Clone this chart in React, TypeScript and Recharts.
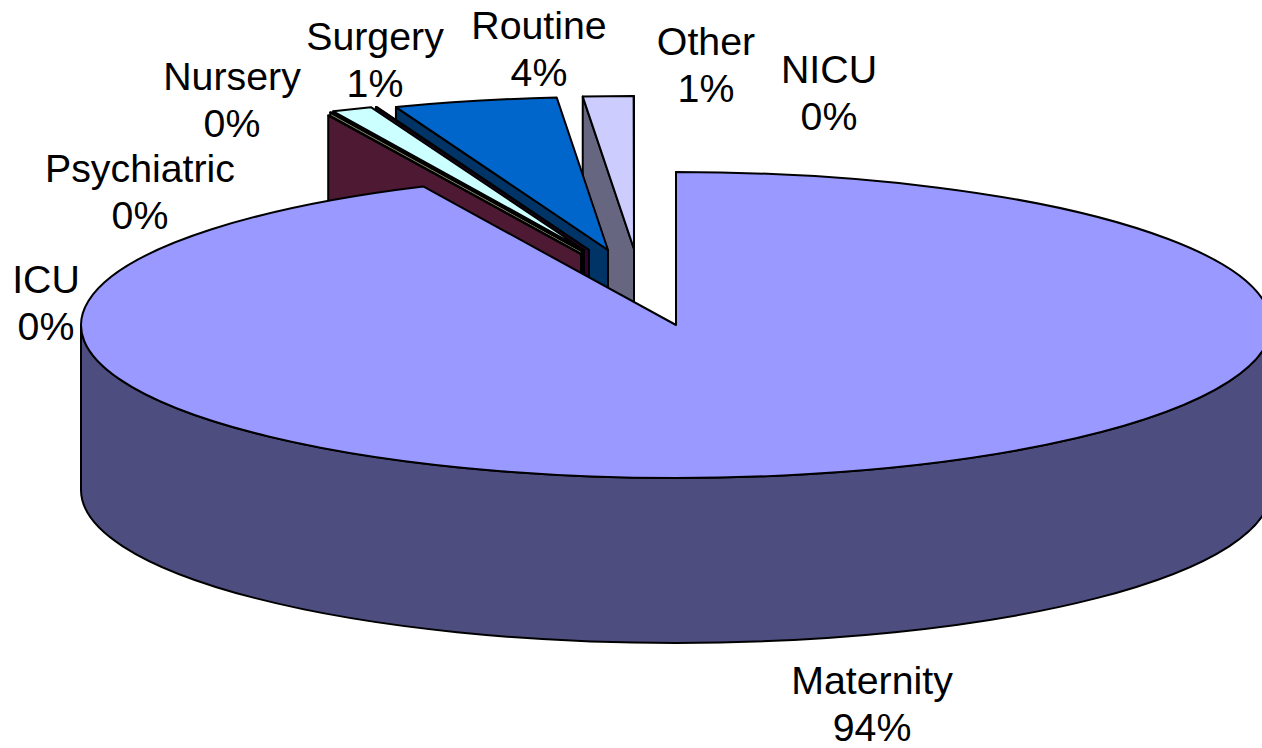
import { Pie, PieChart } from "recharts";

// listed counter-clockwise from 12 o'clock, so the big slice paints last and sits on top
const names = ["NICU", "Other", "Routine", "Nursery", "Surgery", "Psychiatric", "ICU", "Maternity"];
const values = [0.01, 1.37, 4.45, 0.03, 1.1, 0.03, 0.03, 93.5];
const topColors = ["#FF8080", "#CCCCFF", "#0066CC", "#660066", "#CCFFFF", "#FFFFCC", "#993366", "#9999FF"];
const sideColors = ["#804040", "#666680", "#003366", "#330033", "#668080", "#808066", "#4D1933", "#4D4D80"];

// how far each slice is pulled out of the pie, as drawn
const explodeX = [-42, -42, -68, -87, -92, -94, -95, 0];
const explodeY = [-76, -76, -75, -75, -75, -74, -71, 0];

// label anchor: centre x, first baseline
const labelX = [829, 706, 539, 232, 375, 140, 46, 872];
const labelY = [83, 55, 39, 90, 50, 182, 293, 694];

const WIDTH = 1262;
const HEIGHT = 748;
const TILT = 153 / 595;
const DEPTH = 165;
const LINE_GAP = 47;

const chartData = names.map((name, i) => ({ name, value: values[i] }));

const rad = (deg: number) => (deg * Math.PI) / 180;

function Slice3D(props: any) {
  const { cx, cy, outerRadius, startAngle, endAngle, name } = props;
  const i = names.indexOf(name);
  const ox = cx + explodeX[i];
  const oy = cy + explodeY[i];
  const rx = outerRadius;
  const ry = outerRadius * TILT;
  const px = (a: number) => ox + rx * Math.cos(rad(a));
  const py = (a: number) => oy - ry * Math.sin(rad(a));
  const large = endAngle - startAngle > 180 ? 1 : 0;

  const top = `M${ox},${oy} L${px(startAngle)},${py(startAngle)} A${rx},${ry} 0 ${large} 0 ${px(endAngle)},${py(endAngle)} Z`;
  const face = `M${ox},${oy} L${px(endAngle)},${py(endAngle)} v${DEPTH} L${ox},${oy + DEPTH} Z`;

  // outer rim only shows on the front half of the ellipse
  const rimFrom = Math.max(startAngle, 180);
  const rimTo = Math.min(endAngle, 360);
  const rim =
    rimTo > rimFrom
      ? `M${px(rimFrom)},${py(rimFrom)} A${rx},${ry} 0 0 0 ${px(rimTo)},${py(rimTo)} v${DEPTH} A${rx},${ry} 0 0 1 ${px(rimFrom)},${py(rimFrom) + DEPTH} Z`
      : null;

  return (
    <g stroke="#000" strokeWidth={2} strokeLinejoin="round">
      <path d={face} fill={sideColors[i]} />
      {rim && <path d={rim} fill={sideColors[i]} />}
      <path d={top} fill={topColors[i]} />
    </g>
  );
}

function renderLabel(props: any) {
  const i = names.indexOf(props.name);
  return (
    <text
      key={props.name}
      textAnchor="middle"
      fontFamily="Liberation Sans, Arial, sans-serif"
      fontSize={39.3}
      fill="#000"
    >
      <tspan x={labelX[i]} y={labelY[i]}>
        {props.name}
      </tspan>
      <tspan x={labelX[i]} y={labelY[i] + LINE_GAP}>
        {`${Math.round(props.value)}%`}
      </tspan>
    </text>
  );
}

export default function App() {
  return (
    <div style={{ position: "absolute", left: 0, top: 0, width: WIDTH, height: HEIGHT, background: "#fff", overflow: "hidden" }}>
      <PieChart width={WIDTH} height={HEIGHT} margin={{ top: 0, right: 0, bottom: 0, left: 0 }}>
        <Pie
          data={chartData}
          dataKey="value"
          nameKey="name"
          cx={676}
          cy={325}
          innerRadius={0}
          outerRadius={595}
          startAngle={90}
          endAngle={450}
          shape={Slice3D}
          label={renderLabel}
          labelLine={false}
          isAnimationActive={false}
        />
      </PieChart>
    </div>
  );
}
